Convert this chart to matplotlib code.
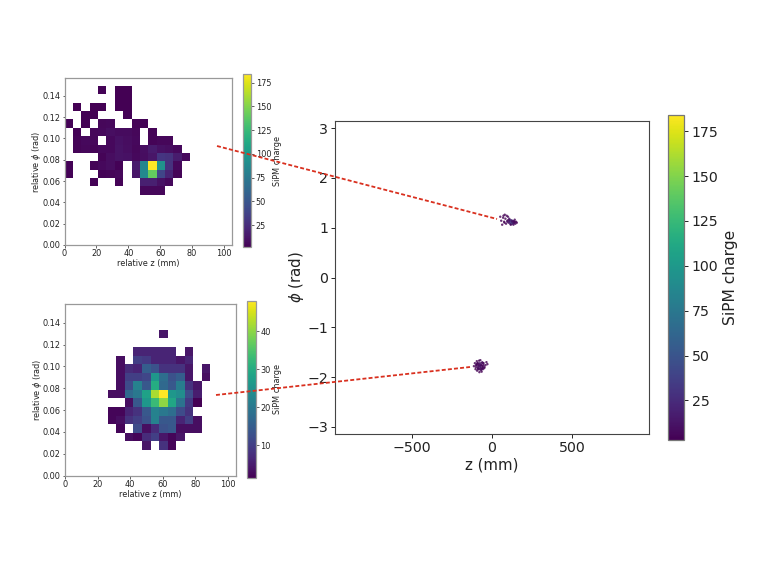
import numpy as np
import matplotlib
matplotlib.use('Agg')
import matplotlib.pyplot as plt
from matplotlib.lines import Line2D

W, H = 762, 572

# carga por celda: (fila desde abajo, primera columna, valores)
filas_arriba = [
    (18, 4, [3]), (18, 6, [2, 2]),
    (17, 6, [2, 2]),
    (16, 1, [2]), (16, 3, [2, 2]), (16, 6, [2, 2]),
    (15, 2, [3, 2]), (15, 7, [3]),
    (14, 0, [3]), (14, 2, [3]), (14, 4, [5, 6]), (14, 8, [4, 3]),
    (13, 1, [3]), (13, 3, [5, 6, 9, 7, 7, 5]), (13, 10, [4]),
    (12, 1, [4, 6, 5]), (12, 5, [6, 10, 8, 6]), (12, 10, [4, 5, 5]),
    (11, 1, [4, 5, 4, 6, 6, 11, 9, 5, 9, 15, 10, 9, 6]),
    (10, 4, [4, 8, 11, 10, 6, 8, 12, 30, 28, 16, 6]),
    (9, 0, [3]), (9, 3, [4, 6, 8, 3]), (9, 8, [15, 85, 184, 95, 28, 6]),
    (8, 0, [3]), (8, 4, [3, 4, 5]), (8, 8, [12, 88, 140, 40, 20, 4]),
    (7, 3, [3]), (7, 6, [4]), (7, 9, [18, 18, 10, 6]),
    (6, 9, [5, 5, 5]),
]
filas_abajo = [
    (16, 11, [4]),
    (14, 8, [6, 6, 6, 6, 6]), (14, 14, [4]),
    (13, 6, [3]), (13, 8, [10, 9, 6, 6, 6, 4, 6]),
    (12, 6, [3, 7, 6, 15, 13, 8, 8, 8, 4]), (12, 16, [4]),
    (11, 6, [3, 10, 10, 11, 26, 18, 13, 15, 4]), (11, 16, [3]),
    (10, 6, [3, 12, 22, 14, 30, 17, 14, 21, 8, 4]),
    (9, 5, [3, 3, 17, 20, 28, 42, 48, 26, 24, 12, 5]),
    (8, 7, [3, 14, 26, 33, 40, 29, 19, 9, 1.3]),
    (7, 5, [2, 2, 6, 8, 14, 22, 20, 18, 12, 8]),
    (6, 5, [2, 3, 8, 10, 13, 22, 14, 14, 6, 10, 3]),
    (5, 6, [2]), (5, 8, [12, 3, 7, 13, 14, 3, 3, 3]),
    (4, 7, [3, 2, 7, 10, 4, 2, 4]),
    (3, 9, [4]), (3, 11, [8, 2]),
]

# puntos del panel grande
z_sup = [52, 58, 64, 70, 76, 80, 84, 88, 92, 96, 100, 104, 108, 112, 116, 120, 125, 130, 134, 138, 142, 146, 150, 155,
         96, 102, 108, 114, 120, 126, 132, 138, 110, 118, 124, 130, 136, 142, 78, 72]
phi_sup = [1.22, 1.14, 1.06, 1.20, 1.12, 1.26, 1.18, 1.08, 1.24, 1.14, 1.22, 1.10, 1.18, 1.13, 1.07, 1.15, 1.09, 1.13, 1.06, 1.12, 1.16, 1.08, 1.12, 1.10,
           1.12, 1.15, 1.12, 1.09, 1.12, 1.14, 1.10, 1.09, 1.16, 1.06, 1.12, 1.08, 1.13, 1.11, 1.10, 1.24]
q_sup = [3, 2, 2, 3, 4, 3, 5, 3, 4, 6, 4, 8, 12, 20, 6, 30, 70, 18, 6, 12, 5, 4, 3, 2,
         9, 10, 16, 24, 40, 16, 22, 10, 8, 7, 12, 14, 8, 6, 3, 3]

z_inf = [-112, -106, -102, -98, -94, -92, -88, -86, -80, -78, -74, -72, -68, -64, -60, -56, -52, -46, -40, -34, -28,
         -100, -94, -88, -82, -76, -70, -64, -58, -52, -96, -88, -80, -72, -64, -56, -48, -90, -82, -74, -66, -58, -84, -76, -68, -60]
phi_inf = [-1.78, -1.72, -1.84, -1.76, -1.68, -1.87, -1.72, -1.82, -1.67, -1.90, -1.76, -1.66, -1.86, -1.89, -1.70, -1.84, -1.72, -1.80, -1.76, -1.70, -1.74,
           -1.80, -1.74, -1.84, -1.78, -1.72, -1.82, -1.76, -1.80, -1.76, -1.76, -1.80, -1.74, -1.78, -1.84, -1.72, -1.82, -1.72, -1.84, -1.80, -1.72, -1.78, -1.76, -1.84, -1.76, -1.82]
q_inf = [3, 4, 3, 5, 3, 3, 6, 8, 5, 3, 12, 3, 6, 3, 8, 6, 3, 3, 3, 2, 3,
         5, 7, 6, 10, 14, 9, 6, 5, 4, 6, 8, 11, 16, 8, 6, 4, 5, 7, 12, 9, 5, 6, 8, 7, 6]

BIN_Z = 105 / 20
BIN_PHI = np.pi / 400
GRIS = '#222222'


def rejilla(filas):
    m = np.full((20, 20), np.nan)
    for fila, col, vals in filas:
        for i, v in enumerate(vals):
            m[fila, col + i] = v
    return m


def ejes(x0, x1, y0, y1):
    # caja en pixeles de la imagen
    return fig.add_axes([x0 / W, 1 - y1 / H, (x1 - x0) / W, (y1 - y0) / H])


def panel(filas, caja, caja_cb, ticks, pad_cb):
    ax = ejes(*caja)
    m = rejilla(filas)
    xe = np.arange(21) * BIN_Z
    ye = np.arange(21) * BIN_PHI
    pc = ax.pcolormesh(xe, ye, np.ma.masked_invalid(m), cmap='viridis')
    ax.set_xlim(0, 105)
    ax.set_ylim(0, 20 * BIN_PHI)
    ax.set_xticks(np.arange(0, 101, 20))
    ax.set_yticks(np.arange(0, 0.141, 0.02))
    ax.tick_params(labelsize=5.9, length=1.8, width=0.5, pad=1.3, colors=GRIS)
    ax.set_xlabel('relative z (mm)', fontsize=5.9, labelpad=0.8, color=GRIS)
    ax.set_ylabel(r'relative $\phi$ (rad)', fontsize=5.9, labelpad=-1, color=GRIS)
    for s in ax.spines.values():
        s.set_linewidth(0.9)
        s.set_color('#999999')
    cax = ejes(*caja_cb)
    cb = fig.colorbar(pc, cax=cax, ticks=ticks)
    cb.ax.tick_params(labelsize=5.9, length=1.8, width=0.5, pad=1.3, colors=GRIS)
    cb.set_label('SiPM charge', fontsize=5.9, labelpad=pad_cb, color=GRIS)
    cb.outline.set_linewidth(0.9)
    cb.outline.set_edgecolor('#999999')
    return pc


fig = plt.figure(figsize=(W / 100, H / 100), dpi=100)

panel(filas_arriba, (64.5, 232, 77.5, 245), (242.7, 251.3, 74, 247), [25, 50, 75, 100, 125, 150, 175], 1.5)
panel(filas_abajo, (65, 236, 304, 475.7), (247, 256, 301, 478), [10, 20, 30, 40], 1.5)

ax = ejes(335.3, 648.5, 121, 434)
z = z_sup + z_inf
phi = phi_sup + phi_inf
q = q_sup + q_inf
# rango de color compartido con el panel de arriba
sc = ax.scatter(z, phi, c=q, s=3, cmap='viridis', vmin=3, vmax=184, linewidths=0, alpha=0.8)
ax.set_xlim(-975, 975)
ax.set_ylim(-np.pi, np.pi)
ax.set_xticks([-500, 0, 500])
ax.set_yticks([-3, -2, -1, 0, 1, 2, 3])
ax.tick_params(labelsize=10.2, length=2.8, width=0.7, pad=2.5, colors=GRIS)
ax.set_xlabel('z (mm)', fontsize=10.8, labelpad=1.5, color=GRIS)
ax.set_ylabel(r'$\phi$ (rad)', fontsize=10.8, labelpad=0.5, color=GRIS)
for s in ax.spines.values():
    s.set_linewidth(0.8)
    s.set_color('#444444')
cax = ejes(668, 684.3, 115, 440)
cb = fig.colorbar(plt.cm.ScalarMappable(norm=sc.norm, cmap='viridis'), cax=cax, ticks=[25, 50, 75, 100, 125, 150, 175])
cb.ax.tick_params(labelsize=10.2, length=2.8, width=0.7, pad=2.5, colors=GRIS)
cb.set_label('SiPM charge', fontsize=11.2, labelpad=3, color=GRIS)
cb.outline.set_linewidth(0.9)
cb.outline.set_edgecolor('#777777')

# lineas rojas entre paneles
for (x0, y0), (x1, y1) in [((217, 146), (497, 219)), ((216, 395), (470, 367))]:
    fig.add_artist(Line2D([x0 / W, x1 / W], [1 - y0 / H, 1 - y1 / H], transform=fig.transFigure,
                          color='#d9301f', lw=1.3, ls=(0, (2.2, 1.2)), zorder=10))

fig.savefig('out.png', dpi=100)
